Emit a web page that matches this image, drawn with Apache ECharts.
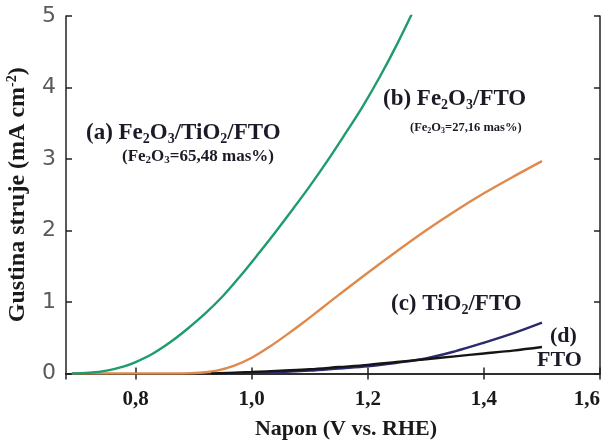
<!DOCTYPE html>
<html><head><meta charset="utf-8">
<script src="https://cdn.jsdelivr.net/npm/echarts@6/dist/echarts.min.js"></script>
<style>html,body{margin:0;padding:0;background:#fff}#c{width:612px;height:443px}</style>
</head><body><div id="c"></div>
<script>
// Data
const vA = [0.69, 0.72, 0.75, 0.78, 0.80, 0.83, 0.86, 0.89, 0.92, 0.95, 0.98, 1.01, 1.04, 1.07, 1.10, 1.13, 1.16, 1.19, 1.22, 1.25, 1.28];
const jA = [0.00, 0.01, 0.04, 0.10, 0.16, 0.28, 0.44, 0.63, 0.84, 1.08, 1.36, 1.66, 1.97, 2.29, 2.62, 2.97, 3.34, 3.72, 4.14, 4.60, 5.10];

const vB = [0.69, 0.80, 0.88, 0.91, 0.94, 0.97, 1.00, 1.03, 1.06, 1.09, 1.12, 1.15, 1.20, 1.25, 1.30, 1.35, 1.40, 1.45, 1.50];
const jB = [0.00, 0.00, 0.00, 0.01, 0.04, 0.11, 0.22, 0.37, 0.54, 0.72, 0.91, 1.10, 1.41, 1.71, 2.00, 2.27, 2.52, 2.75, 2.97];

const vC = [0.95, 1.00, 1.05, 1.10, 1.15, 1.20, 1.25, 1.30, 1.35, 1.40, 1.45, 1.50];
const jC = [0.00, 0.01, 0.02, 0.04, 0.07, 0.10, 0.15, 0.21, 0.31, 0.43, 0.56, 0.71];

const vD = [0.93, 1.00, 1.05, 1.10, 1.15, 1.20, 1.25, 1.30, 1.35, 1.40, 1.45, 1.50];
const jD = [0.00, 0.02, 0.04, 0.06, 0.09, 0.12, 0.16, 0.20, 0.24, 0.28, 0.32, 0.37];

const xMin = 0.68, xMax = 1.6;
const yMin = 0, yMax = 5, yStep = 1;

const xTitle = 'Napon (V vs. RHE)';
const labelA = ['(a) Fe', '2', 'O', '3', '/TiO', '2', '/FTO'];
const subA = ['(Fe', '2', 'O', '3', '=65,48 mas%)'];
const labelB = ['(b) Fe', '2', 'O', '3', '/FTO'];
const subB = ['(Fe', '2', 'O', '3', '=27,16 mas%)'];
const labelC = ['(c) TiO', '2', '/FTO'];
const labelD = '(d)';
const labelFTO = 'FTO';

const pair = (xs, ys) => xs.map((x, i) => [x, ys[i]]);
const serif = '"Liberation Serif", "Times New Roman", serif';
const ink = '#1b1b28';
function rt(parts) { return parts.map((p, i) => (i % 2 ? '{s|' + p + '}' : '{m|' + p + '}')).join(''); }
function richFor(size) {
  return {
    m: { fontFamily: serif, fontWeight: 'bold', fontSize: size, lineHeight: size + 2, fill: ink, color: ink },
    s: { fontFamily: serif, fontWeight: 'bold', fontSize: Math.round(size * 0.62), lineHeight: Math.round(size * 0.62), verticalAlign: 'bottom', fill: ink, color: ink }
  };
}
function txt(left, top, parts, size) {
  return { type: 'text', left: left, top: top, z: 10,
    style: { text: rt(parts), rich: richFor(size), fill: ink } };
}

const chart = echarts.init(document.getElementById('c'), null, { renderer: 'canvas' });
const lineStyleAxis = { color: '#222', width: 1.5 };
chart.setOption({
  backgroundColor: '#fff',
  animation: false,
  grid: { left: 66, right: 12, top: 16, bottom: 69.5, containLabel: false, outerBoundsMode: 'none' },
  xAxis: [{
    type: 'value', min: xMin, max: xMax, splitNumber: 5,
    axisLine: { show: true, lineStyle: lineStyleAxis },
    axisTick: { show: true, inside: true, length: 6, lineStyle: { color: '#222', width: 1.5 } },
    splitLine: { show: false },
    axisLabel: { showMinLabel: false, alignMaxLabel: 'right', margin: 16,
      formatter: v => v.toFixed(1).replace('.', ','),
      fontFamily: serif, fontWeight: 'bold', fontSize: 21, color: '#1a1a1a' },
    name: xTitle, nameLocation: 'middle', nameGap: 45,
    nameTextStyle: { fontFamily: serif, fontWeight: 'bold', fontSize: 22, color: '#1a1a1a', padding: [0, 0, 0, 26] }
  }, {
    type: 'value', position: 'top', min: xMin, max: xMax, splitNumber: 5,
    axisLine: { show: true, lineStyle: lineStyleAxis },
    axisTick: { show: true, inside: true, length: 6, lineStyle: { color: '#222', width: 1.5 } },
    axisLabel: { show: false }, splitLine: { show: false }
  }],
  yAxis: [{
    type: 'value', min: yMin, max: yMax, interval: yStep,
    axisLine: { show: true, lineStyle: lineStyleAxis },
    axisTick: { show: true, inside: true, length: 6, lineStyle: { color: '#222', width: 1.5 } },
    splitLine: { show: false },
    axisLabel: { margin: 10, fontFamily: '"DejaVu Sans", sans-serif', fontSize: 22, color: '#5a5a5a' },
    name: '{m|Gustina struje (mA cm}{p|-2}{m|)}', nameLocation: 'middle', nameGap: 35,
    nameTextStyle: { rich: {
      m: { fontFamily: serif, fontWeight: 'bold', fontSize: 24, color: '#1a1a1a', lineHeight: 26 },
      p: { fontFamily: serif, fontWeight: 'bold', fontSize: 14, color: '#1a1a1a', lineHeight: 14, verticalAlign: 'top' }
    } }
  }, {
    type: 'value', position: 'right', min: yMin, max: yMax, interval: yStep,
    axisLine: { show: true, lineStyle: lineStyleAxis },
    axisTick: { show: true, inside: true, length: 6, lineStyle: { color: '#222', width: 1.5 } },
    axisLabel: { show: false }, splitLine: { show: false }
  }],
  series: [
    { type: 'line', data: pair(vA, jA), showSymbol: false, smooth: 0.35, clip: true,
      lineStyle: { color: '#1e9c6c', width: 2.4 }, z: 4 },
    { type: 'line', data: pair(vB, jB), showSymbol: false, smooth: 0.35, clip: true,
      lineStyle: { color: '#e0894c', width: 2.4 }, z: 3 },
    { type: 'line', data: pair(vC, jC), showSymbol: false, smooth: 0.35, clip: true,
      lineStyle: { color: '#2a2a6c', width: 2.4 }, z: 5 },
    { type: 'line', data: pair(vD, jD), showSymbol: false, smooth: 0.35, clip: true,
      lineStyle: { color: '#151515', width: 2.4 }, z: 6 }
  ],
  graphic: [
    txt(86, 122, labelA, 23),
    txt(122, 148, subA, 17),
    txt(383, 88, labelB, 23),
    txt(410, 121, subB, 12.5),
    txt(391, 293, labelC, 23),
    { type: 'text', left: 550, top: 325, z: 10, style: { text: labelD, fontFamily: serif, fontWeight: 'bold', fontSize: 22, fill: ink } },
    { type: 'text', left: 537, top: 349, z: 10, style: { text: labelFTO, fontFamily: serif, fontWeight: 'bold', fontSize: 22, fill: ink } }
  ]
});
</script></body></html>
